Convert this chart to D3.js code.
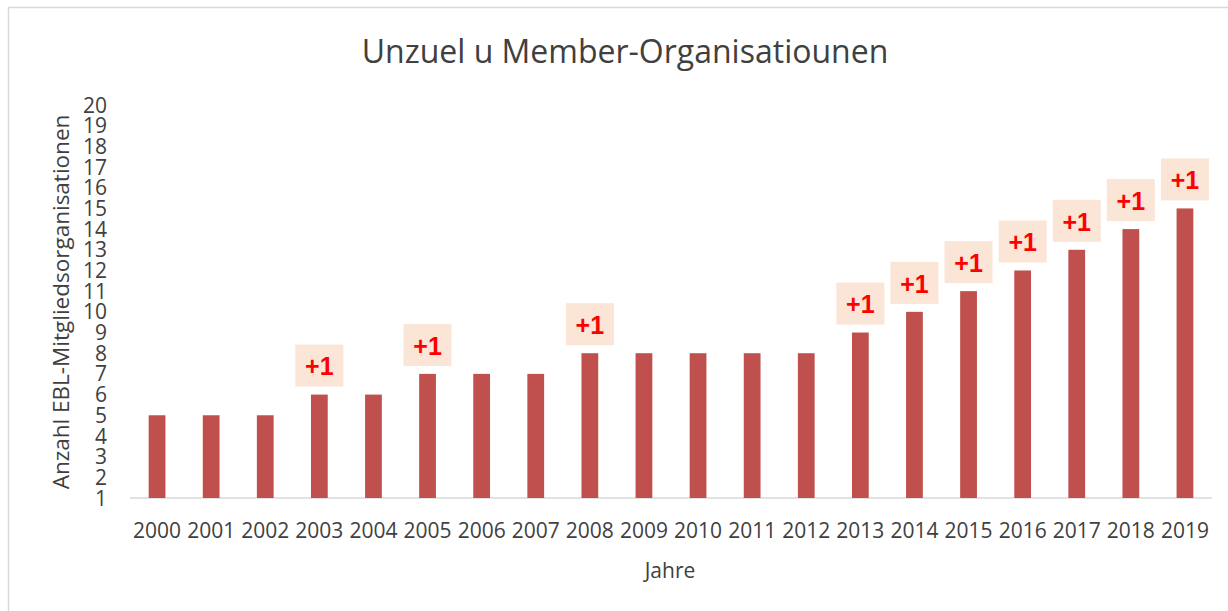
<!DOCTYPE html>
<html>
<head>
<meta charset="utf-8">
<script src="https://cdn.jsdelivr.net/npm/d3@7"></script>
<style>
  body { margin: 0; background: #fff; }
  text { font-family: "Open Sans", sans-serif; fill: #404040; }
</style>
</head>
<body>
<div id="chart"></div>
<script>
// data
const years = ["2000","2001","2002","2003","2004","2005","2006","2007","2008","2009",
               "2010","2011","2012","2013","2014","2015","2016","2017","2018","2019"];
const members = [5,5,5,6,6,7,7,7,8,8,8,8,8,9,10,11,12,13,14,15];
const plusYears = ["2003","2005","2008","2013","2014","2015","2016","2017","2018","2019"];
const yTicks = d3.range(1, 21);

const width = 1228, height = 611;
const margin = {top: 105, right: 16, bottom: 113, left: 130};

const svg = d3.select("#chart").append("svg")
  .attr("width", width).attr("height", height);

// chart frame (only top + left visible in the original)
svg.append("rect")
  .attr("x", 8.5).attr("y", 7.5)
  .attr("width", width + 10).attr("height", height + 10)
  .attr("fill", "none").attr("stroke", "#d9d9d9").attr("stroke-width", 1.5);

const x = d3.scaleBand().domain(years)
  .range([margin.left, 1212]).paddingInner(0.69).paddingOuter(0.345);

const y = d3.scaleLinear().domain([1, 20])
  .range([498, margin.top]);

// title
svg.append("text")
  .attr("x", 625).attr("y", 63)
  .attr("text-anchor", "middle")
  .style("font-size", "32px")
  .text("Unzuel u Member-Organisatiounen");

// y tick labels, no axis line
svg.append("g").selectAll("text").data(yTicks).enter().append("text")
  .attr("x", 107).attr("y", d => y(d))
  .attr("dy", "0.36em").attr("text-anchor", "end")
  .style("font-size", "21px")
  .text(d => d);

// baseline
svg.append("line")
  .attr("x1", margin.left).attr("x2", 1212)
  .attr("y1", y(1)).attr("y2", y(1))
  .attr("stroke", "#d9d9d9").attr("stroke-width", 1.5);

// bars
svg.append("g").selectAll("rect").data(years).enter().append("rect")
  .attr("x", d => x(d))
  .attr("width", x.bandwidth())
  .attr("y", (d, i) => y(members[i]))
  .attr("height", (d, i) => y(1) - y(members[i]))
  .attr("fill", "#C0504D");

// x tick labels
svg.append("g").selectAll("text").data(years).enter().append("text")
  .attr("x", d => x(d) + x.bandwidth() / 2)
  .attr("y", 538)
  .attr("text-anchor", "middle")
  .style("font-size", "21px")
  .text(d => d);

// "+1" callouts
const boxW = 48, boxH = 42;
const callouts = svg.append("g").selectAll("g").data(plusYears).enter().append("g")
  .attr("transform", d => {
    const v = members[years.indexOf(d)];
    return `translate(${x(d) + x.bandwidth() / 2},${y(v) - 8 - boxH})`;
  });
callouts.append("rect")
  .attr("x", -boxW / 2).attr("width", boxW).attr("height", boxH)
  .attr("fill", "#FBE5D6");
callouts.append("text")
  .attr("y", boxH / 2 + 1).attr("dy", "0.35em")
  .attr("text-anchor", "middle")
  .style("font-family", "'Liberation Sans', Arial, sans-serif")
  .style("font-weight", "bold").style("font-size", "25px")
  .style("fill", "#FF0000")
  .text("+1");

// axis titles
svg.append("text")
  .attr("x", 670).attr("y", 578)
  .attr("text-anchor", "middle")
  .style("font-size", "21px")
  .text("Jahre");

svg.append("text")
  .attr("transform", "translate(69,302) rotate(-90)")
  .attr("text-anchor", "middle")
  .style("font-size", "22.5px")
  .text("Anzahl EBL-Mitgliedsorganisationen");
</script>
</body>
</html>
